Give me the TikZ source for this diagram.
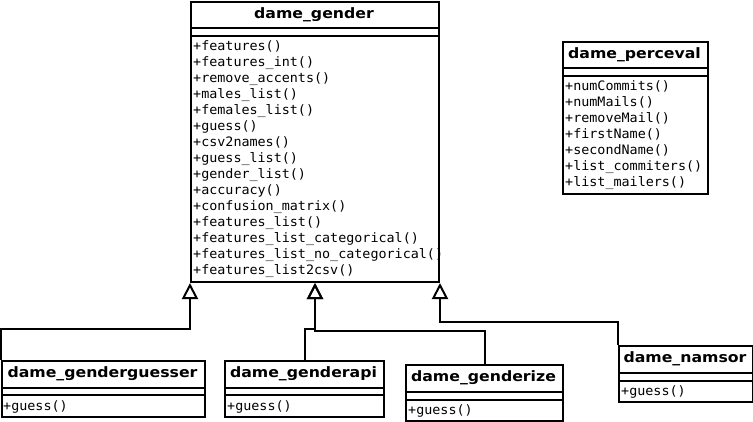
\documentclass[tikz,border=0pt]{standalone}
\usepackage{fontspec}
\usetikzlibrary{arrows.meta}
\newfontfamily\titlefont[FakeStretch=1.1]{DejaVu Sans Bold}
\newfontfamily\methfont[FakeStretch=1.03]{DejaVu Sans Mono}
\tikzset{
  box/.style={draw, line width=2pt, anchor=north west, inner sep=0pt},
  ttl/.style={font=\titlefont\fontsize{14.3}{16}\selectfont, inner sep=0pt},
  meth/.style={font=\methfont\fontsize{13}{16}\selectfont, align=left, anchor=north west, inner sep=0pt},
  sep/.style={line width=2pt},
  inh/.style={line width=2pt, -{Triangle[open, length=16pt, width=16pt, line width=2pt]}}
}
\begin{document}
\begin{tikzpicture}[x=1pt,y=-1pt]
\useasboundingbox (0,0) rectangle (753,421);
% dame_gender
\node[box, minimum width=248pt, minimum height=280pt] (gender) at (190,1) {};
\draw[sep] (190,28) -- (438,28);
\draw[sep] (190,36) -- (438,36);
\node[ttl] (genderT) at (314,14.5) {dame\_gender};
\node[meth] (genderM) at (193,40.5) {+features()\\+features\_int()\\+remove\_accents()\\+males\_list()\\+females\_list()\\+guess()\\+csv2names()\\+guess\_list()\\+gender\_list()\\+accuracy()\\+confusion\_matrix()\\+features\_list()\\+features\_list\_categorical()\\+features\_list\_no\_categorical()\\+features\_list2csv()};
% dame_perceval
\node[box, minimum width=145pt, minimum height=152pt] (perc) at (562,41) {};
\draw[sep] (562,68) -- (707,68);
\draw[sep] (562,76) -- (707,76);
\node[ttl] (percT) at (634.5,54.5) {dame\_perceval};
\node[meth] (percM) at (565,80.5) {+numCommits()\\+numMails()\\+removeMail()\\+firstName()\\+secondName()\\+list\_commiters()\\+list\_mailers()};
% dame_genderguesser
\node[box, minimum width=203pt, minimum height=56pt] (gg) at (1,360) {};
\draw[sep] (1,387.5) -- (204,387.5);
\draw[sep] (1,395) -- (204,395);
\node[ttl] (ggT) at (102.5,374) {dame\_genderguesser};
\node[meth] (ggM) at (3,400) {+guess()};
% dame_genderapi
\node[box, minimum width=159pt, minimum height=56pt] (ga) at (224,360) {};
\draw[sep] (224,387.5) -- (383,387.5);
\draw[sep] (224,395) -- (383,395);
\node[ttl] (gaT) at (303.5,374) {dame\_genderapi};
\node[meth] (gaM) at (227,400) {+guess()};
% dame_genderize
\node[box, minimum width=157pt, minimum height=56pt] (gz) at (405,364) {};
\draw[sep] (405,392) -- (562,392);
\draw[sep] (405,399.5) -- (562,399.5);
\node[ttl] (gzT) at (483.5,378) {dame\_genderize};
\node[meth] (gzM) at (408,404) {+guess()};
% dame_namsor
\node[box, minimum width=134pt, minimum height=56pt] (nm) at (618,345) {};
\draw[sep] (618,373) -- (752,373);
\draw[sep] (618,381) -- (752,381);
\node[ttl] (nmT) at (685,359) {dame\_namsor};
\node[meth] (nmM) at (621,385.5) {+guess()};
% inheritance
\draw[inh] (gg.north west) -- (gg.north west |- 0,328.5) -| (gender.south west);
\draw[inh] (ga.north) -- (ga.north |- 0,329) -| (gender.south);
\draw[inh] (gz.north) -- (gz.north |- 0,330.5) -| (gender.south);
\draw[inh] (nm.north west) -- (nm.north west |- 0,321.5) -| (gender.south east);
\end{tikzpicture}
\end{document}
